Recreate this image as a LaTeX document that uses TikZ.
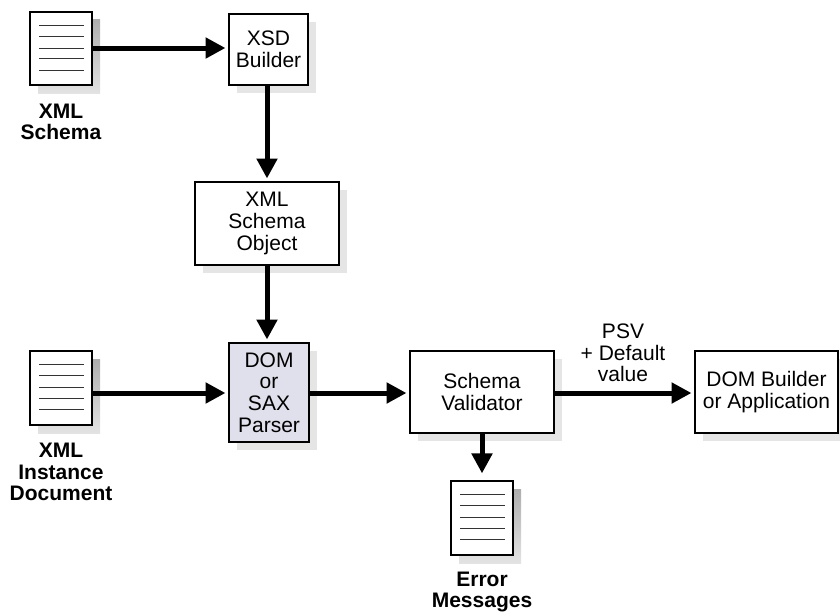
\documentclass[tikz,border=0pt]{standalone}
\usepackage{fontspec}
\setmainfont{Liberation Sans}
\usetikzlibrary{arrows.meta,calc}
\tikzset{x=1pt,y=-1pt,
 boxn/.style={draw=black,line width=2pt,fill=white,align=center,inner sep=0pt,font=\fontsize{21}{21.7}\selectfont},
 shad/.style={fill=black!10},
 docn/.style={draw=black,line width=1.7pt,fill=white,minimum width=61.5pt,minimum height=73.5pt,inner sep=0pt},
 docshad/.style={top color=black!32,bottom color=black!11},
 docline/.style={line width=1pt,draw=black!80},
 capt/.style={align=center,font=\fontsize{21}{21.7}\selectfont\bfseries},
 lbl/.style={align=center,font=\fontsize{21}{21.7}\selectfont},
 flow/.style={line width=5pt,draw=black,-{Triangle[length=20pt,width=20pt]},shorten >=2.5pt}
}
\newcommand{\docat}[3]{% name, cx, cy
 \fill[docshad] (#2-23,#3-29) rectangle (#2+39,#3+45);
 \node[docn] (#1) at (#2,#3) {};
 \foreach \d in {-23.5,-12.5,-.5,10,21.5}
   \draw[docline] (#2-22,#3+\d) -- (#2+23,#3+\d);
}
\newcommand{\boxat}[7]{% name, x1,y1,x2,y2, fill, text
 \fill[shad] (#2+8,#3+8) rectangle (#4+8,#5+8);
 \node[boxn,fill=#6,minimum width=#4-#2,minimum height=#5-#3] (#1) at ({(#2+#4)/2},{(#3+#5)/2}) {#7};
}
\definecolor{parserfill}{RGB}{224,224,236}
\begin{document}
\begin{tikzpicture}
\useasboundingbox (0,0) rectangle (840,611);
\clip (0,0) rectangle (840,611);
\docat{d1}{61}{48.5}
\docat{d2}{61}{388}
\docat{d3}{482}{518}
\boxat{xsd}{229}{14}{308}{85}{white}{XSD\\Builder}
\boxat{obj}{195}{182}{339}{265}{white}{XML\\Schema\\Object}
\boxat{par}{229}{343}{309}{442}{parserfill}{DOM\\or\\SAX\\Parser}
\boxat{val}{410}{351}{554}{433}{white}{Schema\\Validator}
\boxat{app}{695}{351}{838}{433}{white}{DOM Builder\\or Application}
\node[capt] (c1) at (61,122) {XML\\Schema};
\node[capt] (c2) at (61,472) {XML\\Instance\\Document};
\node[capt] (c3) at (482,592) {Error\\Messages};
\node[lbl] (psv) at (623,353) {PSV\\+ Default\\value};
\draw[flow] (d1.east|-0,48) -- (xsd.west|-0,48);
\draw[flow] (obj|-xsd.south) -- (obj.north);
\draw[flow] (obj.south) -- (obj|-par.north);
\draw[flow] (d2.east|-0,393) -- (par.west|-0,393);
\draw[flow] (par.east|-0,393) -- (val.west|-0,393);
\draw[flow] (val.east|-0,393) -- (app.west|-0,393);
\draw[flow,shorten >=7pt] (d3|-val.south) -- (d3.north);
\end{tikzpicture}
\end{document}
